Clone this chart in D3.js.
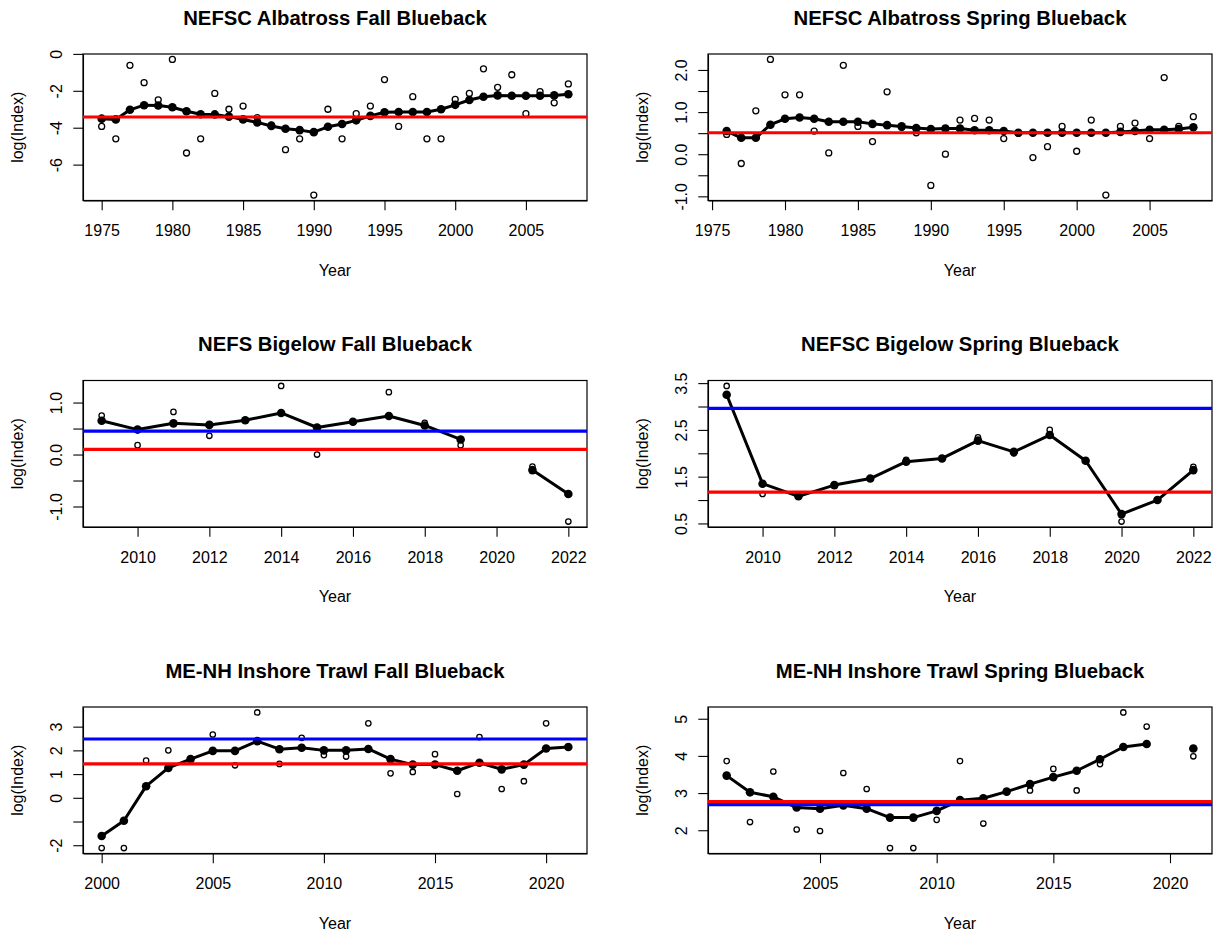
<!DOCTYPE html>
<html><head><meta charset="utf-8">
<script src="https://cdn.jsdelivr.net/npm/d3@7"></script>
<style>html,body{margin:0;padding:0;background:#fff}svg{display:block}</style>
</head><body>
<script>
// ---------- data ----------
const titles = ["NEFSC Albatross Fall Blueback","NEFSC Albatross Spring Blueback","NEFS Bigelow Fall Blueback","NEFSC Bigelow Spring Blueback","ME-NH Inshore Trawl Fall Blueback","ME-NH Inshore Trawl Spring Blueback"];

const years1 = d3.range(1975, 2009);
const obs1 = [-3.93,-4.60,-0.62,-1.56,-2.49,-0.30,-5.37,-4.60,-2.14,-3.00,
              -2.83,-3.45,-3.85,-5.19,-4.60,-7.65,-3.00,-4.60,-3.24,-2.83,
              -1.39,-3.93,-2.32,-4.60,-4.60,-2.47,-2.14,-0.81,-1.81,-1.13,
              -3.24,-2.05,-2.65,-1.63];
const fit1 = [-3.51,-3.55,-3.03,-2.78,-2.80,-2.89,-3.11,-3.27,-3.28,-3.40,
              -3.55,-3.71,-3.91,-4.06,-4.13,-4.24,-3.95,-3.80,-3.60,-3.36,
              -3.16,-3.15,-3.15,-3.15,-3.00,-2.76,-2.50,-2.32,-2.25,-2.27,
              -2.27,-2.27,-2.25,-2.19];

const years2 = d3.range(1976, 2009);
const obs2 = [0.47,-0.22,1.03,2.25,1.41,1.41,0.55,0.03,2.11,0.66,
              0.30,1.48,0.64,0.51,-0.74,0.00,0.81,0.85,0.81,0.37,
              0.50,-0.08,0.18,0.66,0.07,0.81,-0.97,0.66,0.74,0.37,
              1.82,0.66,0.89];
const fit2 = [0.55,0.39,0.39,0.70,0.84,0.87,0.84,0.77,0.77,0.77,
              0.72,0.69,0.66,0.62,0.60,0.61,0.61,0.57,0.57,0.55,
              0.51,0.51,0.51,0.51,0.51,0.51,0.51,0.53,0.55,0.58,
              0.58,0.60,0.64];

const years3 = d3.range(2009, 2023);
const obs3 = [0.75,0.18,0.82,0.36,0.66,1.32,0.00,0.63,1.20,0.61,0.18,null,-0.23,-1.29];
const fit3 = [0.65,0.48,0.60,0.57,0.66,0.80,0.52,0.63,0.74,0.56,0.29,null,-0.30,-0.76];

const years4 = d3.range(2009, 2023);
const obs4 = [3.44,1.13,1.08,1.32,1.46,1.86,1.89,2.34,2.00,2.50,1.84,0.54,1.00,1.71];
const fit4 = [3.25,1.35,1.08,1.32,1.46,1.82,1.89,2.27,2.03,2.39,1.84,0.70,1.00,1.64];

const years5 = d3.range(2000, 2022);
const obs5 = [-2.12,-2.12,1.57,2.00,1.63,2.67,1.37,3.60,1.43,2.53,1.80,1.74,3.14,1.03,1.09,1.84,0.16,2.56,0.37,0.70,3.14,2.14];
const fit5 = [-1.61,-0.97,0.49,1.26,1.63,1.98,1.98,2.39,2.05,2.11,2.00,2.00,2.06,1.63,1.40,1.40,1.14,1.48,1.20,1.40,2.08,2.14];

const years6 = d3.range(2001, 2022);
const obs6 = [3.86,2.22,3.58,2.02,1.98,3.54,3.11,1.52,1.52,2.28,3.86,2.18,3.04,3.07,3.65,3.07,3.78,5.17,4.79,null,3.99];
const fit6 = [3.47,3.02,2.90,2.61,2.58,2.67,2.58,2.34,2.34,2.52,2.81,2.86,3.04,3.24,3.43,3.60,3.91,4.24,4.32,null,4.20];

const blueLines = [null, null, 0.45, 2.96, 2.48, 2.69];
const redLines  = [-3.42, 0.51, 0.10, 1.17, 1.43, 2.77];

const xTicks = [[1975,1980,1985,1990,1995,2000,2005],[1975,1980,1985,1990,1995,2000,2005],
                [2010,2012,2014,2016,2018,2020,2022],[2010,2012,2014,2016,2018,2020,2022],
                [2000,2005,2010,2015,2020],[2005,2010,2015,2020]];
const yTicks = [[0,-2,-4,-6],[-1,-0.5,0,0.5,1,1.5,2],[-1,-0.5,0,0.5,1],[0.5,1,1.5,2,2.5,3,3.5],[-2,-1,0,1,2,3],[2,3,4,5]];
const yLabels = [["0","-2","-4","-6"],["-1.0","","0.0","","1.0","","2.0"],["-1.0","","0.0","","1.0"],
                 ["0.5","","1.5","","2.5","","3.5"],["-2","","0","1","2","3"],["2","3","4","5"]];

const yearsAll = [years1,years2,years3,years4,years5,years6];
const obsAll = [obs1,obs2,obs3,obs4,obs5,obs6];
const fitAll = [fit1,fit2,fit3,fit4,fit5,fit6];

// ---------- layout ----------
const W = 1220, H = 933;
const colLeft = [83, 708], plotW = 504;
const rowTop = [54, 380.5, 707], plotH = 146.5;
const FONT = "'Liberation Sans', Arial, Helvetica, sans-serif";

const svg = d3.select("body").append("svg").attr("width", W).attr("height", H)
  .style("font-family", FONT);

function rExt(vals){
  const e = d3.extent(vals.filter(v => v != null));
  const d = (e[1]-e[0])*0.04;
  return [e[0]-d, e[1]+d];
}

for (let i = 0; i < 6; i++) {
  const L = colLeft[i % 2], T = rowTop[Math.floor(i / 2)];
  const yrs = yearsAll[i], obs = obsAll[i], fit = fitAll[i];
  const x = d3.scaleLinear().domain(rExt(yrs)).range([L, L + plotW]);
  const y = d3.scaleLinear().domain(rExt(obs.concat(fit))).range([T + plotH, T]);
  const g = svg.append("g");

  const clipId = "clip" + i;
  g.append("clipPath").attr("id", clipId).append("rect")
    .attr("x", L).attr("y", T).attr("width", plotW).attr("height", plotH);

  // title
  g.append("text").attr("x", L + plotW/2).attr("y", T - 29.5)
    .attr("text-anchor", "middle").attr("font-weight", "bold").attr("font-size", 20.3)
    .text(titles[i]);

  // x axis
  const xa = d3.axisBottom(x).tickValues(xTicks[i]).tickFormat(d3.format("d")).tickSize(9.7).tickSizeOuter(0).tickPadding(0);
  const gx = g.append("g").attr("transform", `translate(0,${T + plotH})`).call(xa);
  gx.select(".domain").attr("stroke", "#000").attr("stroke-width", 1.1);
  gx.selectAll(".tick line").attr("stroke", "#000").attr("stroke-width", 1.1);
  gx.selectAll(".tick text").attr("font-size", 16).attr("fill", "#000").attr("dy", null)
    .attr("y", 35.5).style("font-family", FONT);

  // y axis
  const ya = d3.axisLeft(y).tickValues(yTicks[i]).tickFormat((d, k) => yLabels[i][k]).tickSize(9.7).tickSizeOuter(0).tickPadding(0);
  const gy = g.append("g").attr("transform", `translate(${L},0)`).call(ya);
  gy.select(".domain").attr("stroke", "#000").attr("stroke-width", 1.1);
  gy.selectAll(".tick line").attr("stroke", "#000").attr("stroke-width", 1.1);
  gy.selectAll(".tick text").attr("font-size", 16).attr("fill", "#000")
    .attr("x", null).attr("dy", null).attr("text-anchor", "middle")
    .attr("dominant-baseline", "central")
    .attr("transform", "translate(-26.5,0) rotate(-90)").style("font-family", FONT);

  // axis titles
  g.append("text").attr("x", L + plotW/2).attr("y", T + plotH + 75)
    .attr("text-anchor", "middle").attr("font-size", 16).text("Year");
  g.append("text").attr("transform", `translate(${L - 66},${T + plotH/2}) rotate(-90)`)
    .attr("text-anchor", "middle").attr("dominant-baseline", "central").attr("font-size", 16).text("log(Index)");

  // box
  g.append("rect").attr("x", L).attr("y", T).attr("width", plotW).attr("height", plotH)
    .attr("fill", "none").attr("stroke", "#000").attr("stroke-width", 1.2);

  const pg = g.append("g").attr("clip-path", `url(#${clipId})`);
  const rOpen = i < 2 ? 3 : 2.7;

  // observed: open circles
  pg.selectAll("circle.obs").data(yrs.map((yr, k) => [yr, obs[k]]).filter(d => d[1] != null))
    .join("circle").attr("cx", d => x(d[0])).attr("cy", d => y(d[1])).attr("r", rOpen)
    .attr("fill", "none").attr("stroke", "#000").attr("stroke-width", 1.3);

  // fitted: line + filled points
  const fd = yrs.map((yr, k) => [yr, fit[k]]);
  pg.append("path").datum(fd)
    .attr("d", d3.line().defined(d => d[1] != null).x(d => x(d[0])).y(d => y(d[1])))
    .attr("fill", "none").attr("stroke", "#000").attr("stroke-width", 3).attr("stroke-linejoin", "round");
  pg.selectAll("circle.fit").data(fd.filter(d => d[1] != null))
    .join("circle").attr("cx", d => x(d[0])).attr("cy", d => y(d[1])).attr("r", 4.3)
    .attr("fill", "#000");

  // reference lines
  if (blueLines[i] != null)
    pg.append("line").attr("x1", L).attr("x2", L + plotW).attr("y1", y(blueLines[i])).attr("y2", y(blueLines[i]))
      .attr("stroke", "#0000ff").attr("stroke-width", 3.2);
  if (redLines[i] != null)
    pg.append("line").attr("x1", L).attr("x2", L + plotW).attr("y1", y(redLines[i])).attr("y2", y(redLines[i]))
      .attr("stroke", "#ff0000").attr("stroke-width", 3.2);
}
</script>
</body></html>
